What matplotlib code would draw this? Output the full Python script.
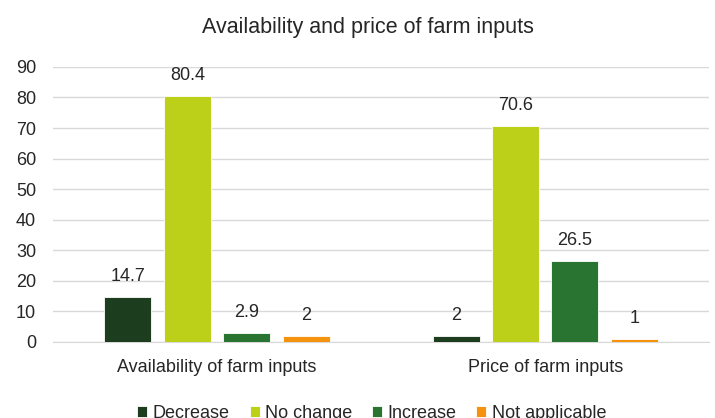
import matplotlib.pyplot as plt
import numpy as np

plt.rcParams['font.family'] = ['Liberation Sans', 'DejaVu Sans']

categories = ["Availability of farm inputs", "Price of farm inputs"]
series = ["Decrease", "No change", "Increase", "Not applicable"]
decrease = [14.7, 2]
no_change = [80.4, 70.6]
increase = [2.9, 26.5]
not_applicable = [2, 1]
colors = ["#1d3d1f", "#bccf19", "#2a7431", "#f5930f"]

values = [decrease, no_change, increase, not_applicable]

fig = plt.figure(figsize=(7.15, 4.18), dpi=100)
ax = fig.add_axes([0.074, 0.182, 0.918, 0.658])

x = np.arange(len(categories))
step = 0.181
width = 0.143
for i, (name, vals, col) in enumerate(zip(series, values, colors)):
    pos = x + (i - 1.5) * step
    bars = ax.bar(pos, vals, width=width, color=col, label=name,
                  edgecolor="#ffffff", linewidth=0.6, zorder=3)
    for b, v in zip(bars, vals):
        ax.text(b.get_x() + b.get_width() / 2, v + 4, f"{v:g}",
                ha="center", va="bottom", fontsize=13, color="#262626")

ax.set_xlim(-0.5, 1.5)
ax.set_ylim(0, 90)
ax.set_yticks(range(0, 91, 10))
ax.set_xticks(x)
ax.set_xticklabels(categories, fontsize=13, color="#262626")
ax.tick_params(axis="y", labelsize=13, labelcolor="#262626", length=0, pad=12)
ax.tick_params(axis="x", length=0, pad=12)
ax.grid(axis="y", color="#d9d9d9", linewidth=1, zorder=0)
for s in ["top", "right", "left"]:
    ax.spines[s].set_visible(False)
ax.spines["bottom"].set_color("#d9d9d9")

fig.suptitle("Availability and price of farm inputs", x=0.515, y=0.96,
             fontsize=15.5, color="#262626")

fig.legend(loc="center", bbox_to_anchor=(0.52, 0.01), ncol=4, frameon=False,
           fontsize=13, handlelength=0.55, handleheight=0.55, handletextpad=0.3,
           columnspacing=1.1, labelcolor="#262626")

fig.savefig("out.png", dpi=100)
